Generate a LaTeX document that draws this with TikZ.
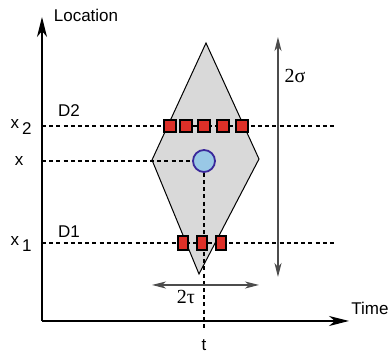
\documentclass[tikz,border=0pt]{standalone}
\usepackage{fontspec}
\setmainfont{Liberation Sans}
\newfontfamily\grkfont{Liberation Serif}
\usetikzlibrary{arrows.meta}
\definecolor{sensorred}{RGB}{222,48,40}
\definecolor{targetfill}{RGB}{153,200,230}
\definecolor{targetedge}{RGB}{58,40,155}
\definecolor{diamondgray}{RGB}{217,217,217}
\begin{document}
\begin{tikzpicture}[x=0.5pt,y=-0.5pt,
  lbl/.style={font=\fontsize{8.5}{10}\selectfont, inner sep=0pt},
  glbl/.style={font=\fontsize{10}{12}\selectfont\grkfont, inner sep=0pt},
  axisline/.style={line width=0.65pt, -{Stealth[length=10pt,width=5pt,inset=3pt]}},
  measure/.style={line width=0.6pt, draw=black!70, {Stealth[length=7pt,width=3.5pt,inset=2pt]}-{Stealth[length=7pt,width=3.5pt,inset=2pt]}},
  guide/.style={dashed, dash pattern=on 2pt off 1.6pt, line width=0.55pt},
  sensor/.style={draw=black, line width=1pt, fill=sensorred, minimum width=5.6pt, minimum height=5.6pt, inner sep=0pt},
  sensortall/.style={sensor, minimum width=5.4pt, minimum height=6.6pt},
  target/.style={circle, draw=targetedge, line width=0.9pt, fill=targetfill, minimum size=11pt, inner sep=0pt}
]
\useasboundingbox (0,0) rectangle (388,352);
% coordinates
\coordinate (O) at (42,321);
\coordinate (ytop) at (42,17);
\coordinate (xend) at (349,321);
\coordinate (Dt) at (206,43);
\coordinate (Dr) at (259,159);
\coordinate (Db) at (199,274);
\coordinate (Dl) at (152,160);
% diamond
\draw[fill=diamondgray, line width=0.5pt] (Dt) -- (Dr) -- (Db) -- (Dl) -- cycle;
% guide lines
\coordinate (x2a) at (42,126);
\coordinate (x2b) at (336,126);
\coordinate (x1a) at (42,243);
\coordinate (x1b) at (336,243);
\coordinate (xa) at (42,161);
\coordinate (tb) at (204,331);
\node[target] (c) at (204,161) {};
\draw[guide] (x2a) -- (x2b);
\draw[guide] (x1a) -- (x1b);
\draw[guide] (xa) -- (c.west);
\draw[guide] (c.south) -- (tb);
% sensors
\node[sensor] (s21) at (170,126) {};
\node[sensor] (s22) at (186,126) {};
\node[sensor] (s23) at (204,126) {};
\node[sensor] (s24) at (223,126) {};
\node[sensor] (s25) at (242,126) {};
\node[sensortall] (s11) at (183,243) {};
\node[sensortall] (s12) at (202,243) {};
\node[sensortall] (s13) at (221,243) {};
% axes
\draw[axisline] (O) -- (ytop);
\draw[axisline] (O) -- (xend);
% measure arrows
\coordinate (sgt) at (278,37);
\coordinate (sgb) at (278,277);
\draw[measure] (sgt) -- (sgb);
\coordinate (tl) at (152,285);
\coordinate (tr) at (259,285);
\draw[measure] (tl) -- (tr);
% labels
\node[lbl] (loc) at (86,15) {Location};
\node[lbl, anchor=west] (time) at (351,308) {Time};
\node[lbl] (d2) at (69,111) {D2};
\node[lbl] (d1) at (69,232) {D1};
\node[lbl] (lx2) at (21,127) {x\kern1.5pt\raisebox{-3.2pt}{2}};
\node[lbl] (lx) at (19,161) {x};
\node[lbl] (lx1) at (21,244) {x\kern1.5pt\raisebox{-3.2pt}{1}};
\node[lbl] (lt) at (204,345) {t};
\node[glbl] (sig) at (295,76) {2σ};
\node[glbl] (tau) at (186,297) {2τ};
\end{tikzpicture}
\end{document}
